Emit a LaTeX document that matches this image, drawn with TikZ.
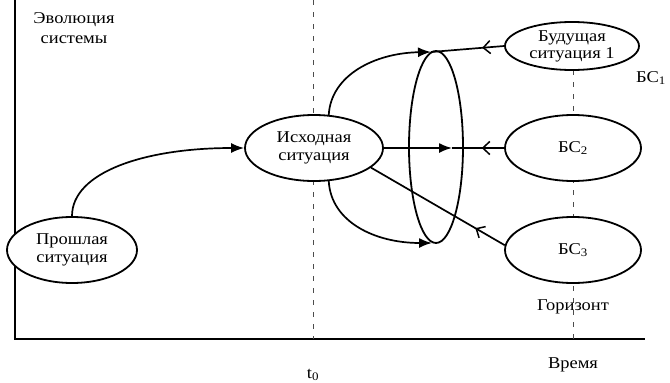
\documentclass[tikz,border=0pt]{standalone}
\usepackage{fontspec}
\setmainfont{Liberation Serif}[FakeStretch=1.12]
\usetikzlibrary{shapes.geometric,arrows.meta,decorations.markings}
\tikzset{
  sit/.style={ellipse,draw,line width=1.8pt,fill=white,inner sep=0pt,align=center,
    font=\fontsize{16.5}{18}\selectfont},
  conn/.style={line width=1.7pt},
  fwd/.style={conn,-{Latex[length=13pt,width=10pt]}},
  guide/.style={line width=0.8pt,black!70,dash pattern=on 5pt off 7pt},
  axis/.style={line width=1.9pt},
  lbl/.style={font=\fontsize{16.5}{20}\selectfont,align=center,inner sep=0pt},
  openmark/.style={postaction={decorate,decoration={markings,
    mark=at position #1 with {\arrow{Straight Barb[length=7pt,width=13pt,line width=1.5pt]}}}}},
}
\begin{document}
\begin{tikzpicture}[x=1pt,y=1pt]
\useasboundingbox (0,0) rectangle (670,-383);
% axes
\coordinate (o) at (15,-339);
\coordinate (ytop) at (15,0);
\coordinate (xend) at (645,-339);
\draw[axis] (ytop) -- (o) -- (xend);
% guide lines
\coordinate (t0top) at (313,0);
\coordinate (t0bot) at (313,-339);
\coordinate (hztop) at (573,-70);
\coordinate (hzbot) at (573,-339);
\draw[guide] (t0top) -- (t0bot);
\draw[guide] (hztop) -- (hzbot);
% situations
\node[sit,minimum width=130pt,minimum height=66pt] (past) at (72,-250) {Прошлая\\ситуация};
\node[sit,minimum width=138pt,minimum height=66pt] (init) at (314,-148) {Исходная\\ситуация};
\node[sit,minimum width=134pt,minimum height=48pt,font=\fontsize{16.5}{17}\selectfont] (bs1) at (572,-46) {Будущая\\ситуация 1};
\node[sit,minimum width=136pt,minimum height=66pt] (bs2) at (573,-148) {БС\textsubscript{2}};
\node[sit,minimum width=136pt,minimum height=66pt] (bs3) at (573,-250) {БС\textsubscript{3}};
\node[ellipse,draw,line width=1.8pt,minimum width=54pt,minimum height=192pt,inner sep=0pt] (cone) at (436,-147) {};
% junctions on the narrow ellipse
\coordinate (jt) at (431,-52);
\coordinate (jm) at (452,-148);
\coordinate (jb) at (432,-243);
% connectors
\draw[fwd] (past.north) .. controls (72,-172) and (145,-148) .. (init.west);
\draw[fwd] (init.66) .. controls (331,-75) and (375,-53) .. (jt);
\draw[fwd] (init.-66) .. controls (331,-222) and (375,-243) .. (jb);
\draw[fwd] (init.east) -- (jm);
\draw[conn,openmark=0.3] (bs1.west) -- (jt);
\draw[conn,openmark=0.43] (bs2.west) -- (jm);
\draw[conn,openmark=0.22] (bs3.176) -- (init.-19);
% labels
\node[lbl] (evo) at (74,-28) {Эволюция\\системы};
\node[lbl] (bs1lbl) at (651,-78) {БС\textsubscript{1}};
\node[lbl] (hz) at (573,-307) {Горизонт};
\node[lbl] (time) at (573,-365) {Время};
\node[lbl] (t0) at (313,-375) {t\textsubscript{0}};
\end{tikzpicture}
\end{document}
